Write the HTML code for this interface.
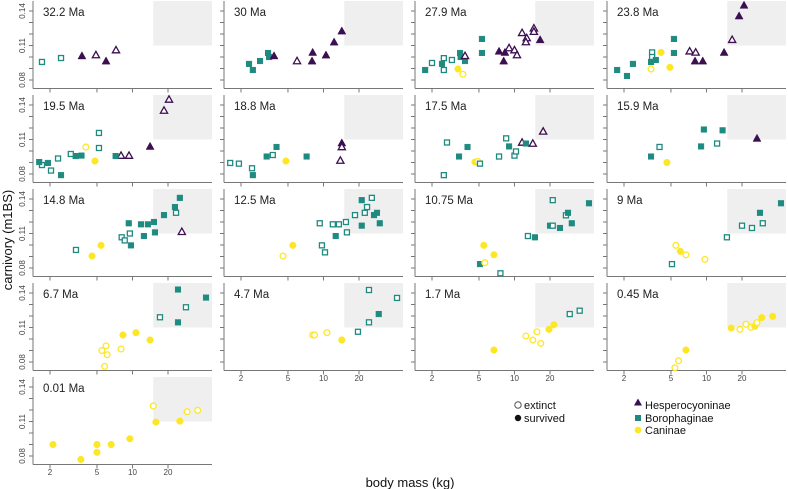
<!DOCTYPE html>
<html><head><meta charset="utf-8"><style>
html,body{margin:0;padding:0;background:#fff;}
svg{display:block;font-family:"Liberation Sans",Arial,sans-serif;}
</style></head><body>
<svg id="chart" width="788" height="489" viewBox="0 0 788 489" xmlns="http://www.w3.org/2000/svg">
<text x="0" y="0" transform="translate(12,240) rotate(-90)" text-anchor="middle" font-size="13" fill="#111">carnivory (m1BS)</text>
<text x="410" y="487" text-anchor="middle" font-size="13" fill="#111">body mass (kg)</text>
<g>
<circle cx="518" cy="405" r="3.2" fill="none" stroke="#555" stroke-width="1"/>
<text x="524" y="409" font-size="11" fill="#111">extinct</text>
<circle cx="518" cy="418" r="3.2" fill="#111"/>
<text x="524" y="422" font-size="11" fill="#111">survived</text>
</g>
<g>
<polygon points="638,398.5 642,405.5 634,405.5" fill="#3b0f50"/>
<text x="645" y="409" font-size="11" fill="#111">Hesperocyoninae</text>
<rect x="635" y="415" width="6" height="6" fill="#1f8a80"/>
<text x="645" y="422" font-size="11" fill="#111">Borophaginae</text>
<circle cx="638" cy="430" r="3.3" fill="#fde725"/>
<text x="645" y="434" font-size="11" fill="#111">Caninae</text>
</g>
</svg>
<script>
const panelLabels = ["32.2 Ma","30 Ma","27.9 Ma","23.8 Ma","19.5 Ma","18.8 Ma","17.5 Ma","15.9 Ma","14.8 Ma","12.5 Ma","10.75 Ma","9 Ma","6.7 Ma","4.7 Ma","1.7 Ma","0.45 Ma","0.01 Ma"];
const massByPanel = [
[1.71,2.48,3.73,4.9,5.97,7.25],
[2.34,2.52,2.9,3.39,3.46,3.81,5.97,8.0,8.1,10.5,12.3,14.3],
[1.75,2.0,2.52,2.52,2.95,2.43,3.46,3.5,3.81,3.81,3.32,3.65,5.3,5.3,7.4,8.1,8.3,9.0,10.0,10.5,11.6,12.7,12.5,14.6,14.6,16.5],
[1.75,2.12,2.38,3.46,3.46,3.39,3.72,3.39,4.12,4.9,5.3,5.3,7.2,8.1,8.0,9.3,14.1,16.5,18.9,20.8],
[20.4,18.5,14.1,8.0,9.35,7.2,5.2,5.2,4.03,4.81,3.7,3.3,3.0,2.34,1.92,1.71,1.62,2.04,2.48],
[1.62,1.92,2.48,2.52,3.3,3.72,4.0,4.81,7.2,14.3,14.3,13.9],
[2.68,2.52,3.39,4.0,4.62,4.9,5.1,7.4,8.5,9.0,10.0,10.3,11.6,12.5,14.3,17.5],
[3.39,4.0,4.62,9.5,9.0,12.3,13.7,26.8],
[3.32,4.54,5.41,8.1,8.6,9.5,9.7,9.3,11.8,13.5,12.5,15.2,15.5,18.5,22.9,23.4,25.2,26.2],
[4.54,5.5,9.3,9.7,10.3,12.0,13.5,12.7,15.5,15.8,18.5,21.1,21.1,22.4,23.4,25.7,26.8,28.4,30.0],
[5.1,5.6,5.5,6.7,7.6,13.0,14.9,20.0,21.1,24.3,27.3,28.4,30.6,21.1,42.8],
[5.1,5.5,6.0,6.7,9.7,14.9,20.0,24.3,30.0,28.4,42.8],
[5.5,5.97,6.1,5.8,8.0,8.3,10.7,14.1,17.1,24.3,24.3,28.4,42],
[8.1,8.4,10.7,14.3,19.6,24.3,29.4,24.3,42],
[6.7,12.5,14.3,15.5,16.7,19.6,21.6,29.4,35.7],
[6.7,5.8,5.4,16.2,19.2,21.6,23.8,25.7,26.8,29.4,36.4],
[2.12,3.65,5.0,5.0,6.6,9.5,15.0,15.8,25.2,29.0,35.7]
];
const carnByPanel = [
[.0957,.0991,.101,.1017,.0965,.106],
[.094,.0887,.0965,.1035,.100,.101,.0965,.0965,.104,.1017,.113,.1226],
[.0887,.0948,.099,.0887,.0974,.094,.1035,.100,.0965,.101,.0896,.085,.1157,.1035,.105,.0965,.104,.1078,.106,.1017,.121,.1165,.113,.125,.122,.115],
[.0887,.0835,.094,.104,.100,.0957,.0974,.0896,.104,.091,.1157,.1035,.105,.104,.0965,.0965,.104,.115,.1357,.145],
[.1448,.1352,.104,.096,.096,.0956,.1157,.1026,.1035,.0913,.096,.0956,.0974,.0935,.0896,.0878,.0904,.083,.079],
[.0896,.089,.085,.079,.0952,.0965,.1035,.0913,.0952,.107,.1035,.0917],
[.1074,.079,.0952,.1035,.0904,.0909,.089,.0952,.111,.104,.096,.0996,.1074,.1065,.1065,.117],
[.0952,.1035,.09,.1187,.104,.1065,.118,.111],
[.0957,.0904,.0997,.1067,.104,.110,.0997,.1189,.118,.118,.1078,.12,.111,.126,.133,.128,.141,.1115],
[.0904,.0997,.1189,.0997,.0936,.118,.118,.1078,.12,.111,.126,.1168,.139,.128,.133,.141,.126,.128,.1189],
[.0834,.0846,.0997,.0915,.0754,.1078,.1067,.1168,.1168,.1148,.1258,.128,.1189,.139,.1363],
[.0834,.0997,.0945,.0915,.0875,.1067,.1168,.1148,.1189,.128,.1363],
[.090,.094,.0863,.0762,.0913,.1035,.1055,.0991,.1189,.1145,.143,.1276,.136],
[.1035,.1035,.1055,.0991,.1063,.1145,.1217,.1426,.1357],
[.0904,.1026,.0991,.1063,.0962,.1084,.1124,.1217,.1246],
[.0904,.0811,.075,.1095,.1084,.1128,.1102,.111,.1142,.1186,.1197],
[.090,.077,.090,.0832,.090,.095,.1235,.1095,.1104,.1185,.1197]
];
const typeByPanel = [
"Be Be Hs He Hs He",
"Bs Bs Bs Bs Bs Hs He Hs Hs Hs Hs Hs",
"Bs Be Be Be Be Bs Bs Bs Bs He Cs Ce Bs Bs Hs Hs Hs He He He He He He He He Hs",
"Bs Bs Bs Be Be Bs Bs Ce Cs Cs Bs Bs He He Hs Hs Hs He Hs Hs",
"He He Hs He He Bs Be Be Ce Cs Bs Bs Be Be Bs Be Bs Be Bs",
"Be Be Be Bs Bs Be Bs Cs Bs Hs He He",
"Be Be Bs Bs Cs Ce Be Be Be Bs Be Be He Bs He He",
"Bs Be Cs Bs Bs Be Bs Hs",
"Be Cs Cs Be Be Be Bs Bs Bs Bs Bs Bs Bs Bs Bs Be Bs He",
"Ce Cs Be Be Be Be Be Bs Be Be Be Bs Bs Be Be Be Bs Bs Bs",
"Bs Ce Cs Cs Be Be Bs Bs Be Bs Be Bs Bs Be Bs",
"Be Ce Cs Ce Ce Be Be Be Be Bs Bs",
"Ce Ce Ce Ce Ce Cs Cs Cs Be Bs Bs Be Bs",
"Ce Ce Ce Cs Be Be Bs Be Be",
"Cs Ce Ce Ce Ce Cs Cs Be Be",
"Cs Ce Ce Cs Ce Ce Ce Cs Ce Cs Cs",
"Cs Cs Cs Cs Cs Cs Ce Cs Cs Ce Ce"
];
const xTickValues = [2,5,10,20];
const xTickLabels = ["2","5","10","20"];
const yTickValues = [0.14,0.13,0.12,0.11,0.10,0.09,0.08];
const yTickLabels = ["0.14","","","0.11","","","0.08"];

const NS = "http://www.w3.org/2000/svg";
const svg = document.getElementById("chart");
const colX = [33,224,415,607];
const PW = 179;
const COLORS = {H:"#3b0f50", B:"#1f8a80", C:"#fde725"};
function xScale(col, m){ return colX[col] + 17 + 118*Math.log10(m/2); }
function yScale(row, c){ return 94*row + 11 + (0.14 - c)/0.06*69; }
function mk(tag, attrs, parent){
  const e = document.createElementNS(NS, tag);
  for (const k in attrs) e.setAttribute(k, attrs[k]);
  (parent||svg).appendChild(e);
  return e;
}
const showX = [13,14,15,16];
panelLabels.forEach((lab, i) => {
  const col = i % 4, row = Math.floor(i / 4);
  const x0 = colX[col], y0 = 94*row;
  const g = mk("g", {});
  
  
  const bg = mk("rect", {x: xScale(col,15), y: y0+1, width: x0+PW - xScale(col,15), height: yScale(row,0.11)-(y0+1), fill:"#efefef"}, g);
  
  
  const ya = mk("line", {x1:x0, y1:y0+1, x2:x0, y2:y0+88.5, stroke:"#777", "stroke-width":1}, g);
  
  
  const xa = mk("line", {x1:x0, y1:y0+88.5, x2:x0+PW, y2:y0+88.5, stroke:"#777", "stroke-width":1}, g);
  
  
  yTickValues.forEach((v, k) => {
    const yy = yScale(row, v);
    const t = mk("line", {x1:x0-4, y1:yy, x2:x0, y2:yy, stroke:"#777", "stroke-width":1}, g);
    
    
    if (col === 0 && yTickLabels[k]) {
      const tl = mk("text", {transform:`translate(${x0-8},${yy}) rotate(-90)`, "text-anchor":"middle", "font-size":8, fill:"#444"}, g);
      tl.textContent = yTickLabels[k];
      
      
    }
  });
  xTickValues.forEach((v, k) => {
    const xx = xScale(col, v);
    const t = mk("line", {x1:xx, y1:y0+88.5, x2:xx, y2:y0+92.5, stroke:"#777", "stroke-width":1}, g);
    
    
    if (showX.includes(i)) {
      const tl = mk("text", {x:xx, y:y0+99, "text-anchor":"middle", "font-size":8, fill:"#444"}, g);
      tl.textContent = xTickLabels[k];
      
      
    }
  });
  const title = mk("text", {x:x0+10, y:y0+16, "font-size":11.5, fill:"#222"}, g);
  title.textContent = lab;
  
  
  const types = typeByPanel[i].split(" ");
  massByPanel[i].forEach((m, j) => {
    const c = carnByPanel[i][j];
    const grp = types[j][0], surv = types[j][1] === "s";
    const cx = xScale(col, m), cy = yScale(row, c), col_ = COLORS[grp];
    let e;
    if (grp === "H") {
      const h = surv ? 3.6 : 3.2;
      e = mk("polygon", {points:`${cx},${cy-h-0.5} ${cx+h+0.4},${cy+h-0.5} ${cx-h-0.4},${cy+h-0.5}`,
        fill: surv ? col_ : "#fff", stroke: col_, "stroke-width": surv ? 0.5 : 1.3, "stroke-linejoin":"miter"}, g);
    } else if (grp === "B") {
      const s = surv ? 5.6 : 5.0;
      e = mk("rect", {x:cx-s/2, y:cy-s/2, width:s, height:s,
        fill: surv ? col_ : "#fff", stroke: col_, "stroke-width": surv ? 0.5 : 1.3}, g);
    } else {
      e = mk("circle", {cx:cx, cy:cy, r: surv ? 3.3 : 2.9,
        fill: surv ? col_ : "#fff", stroke: col_, "stroke-width": surv ? 0.5 : 1.3}, g);
    }
    
    
  });
});
</script>
</body></html>
